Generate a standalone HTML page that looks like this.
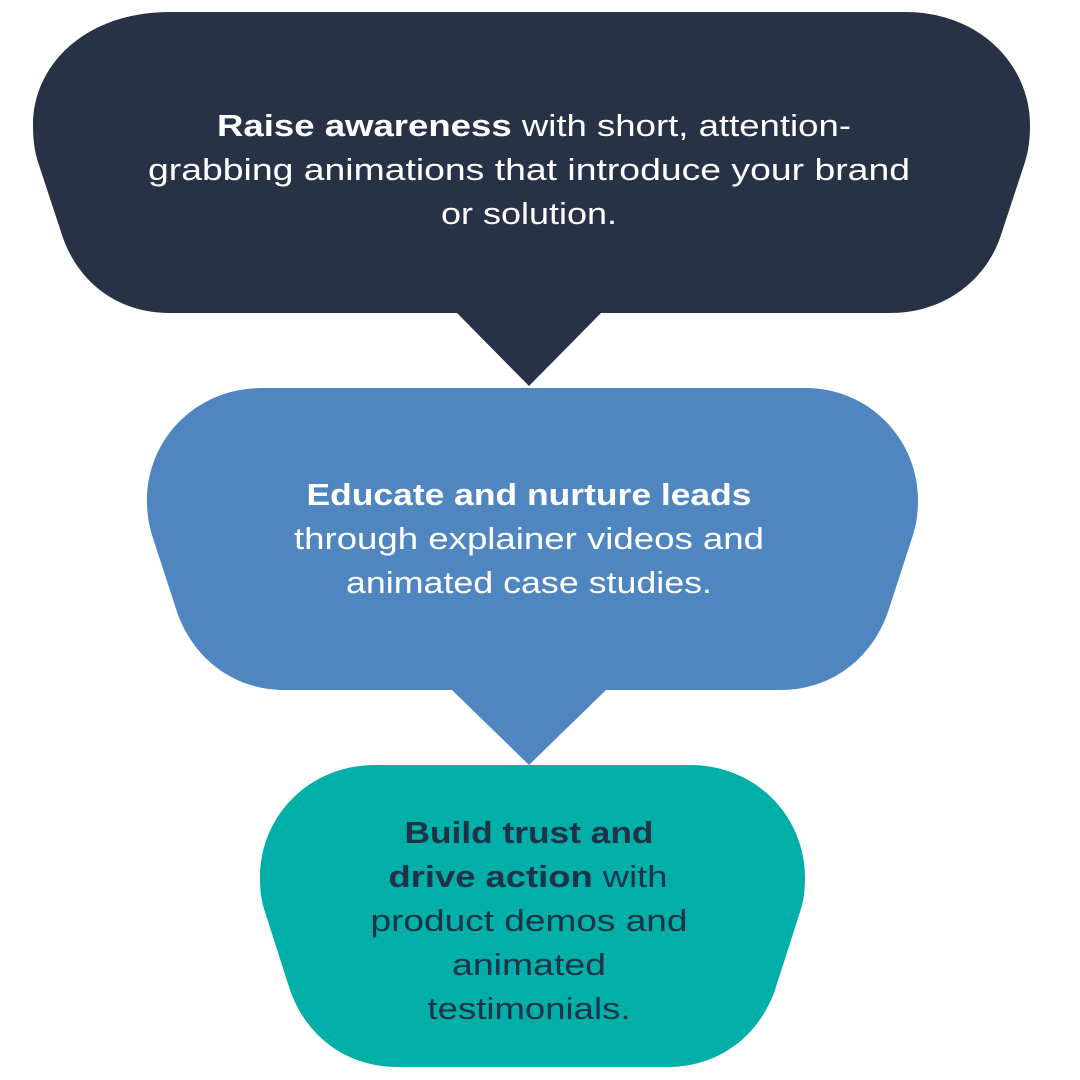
<!DOCTYPE html>
<html><head><meta charset="utf-8"><style>
html,body{margin:0;padding:0;background:#fff;}
svg{display:block;}
text{font-family:"Liberation Sans",sans-serif;font-size:31px;}
</style></head><body>
<svg width="1080" height="1080" viewBox="0 0 1080 1080">
<path fill="#283246" d="M170,12 H905 C980,12 1030,65 1030,125 C1030,142 1028,152 1025,162 L1000,238 C985,280 945,313 890,313 H601 L529,386 L457,313 H170 C115,313 78,280 63,238 L38,162 C35,152 33,142 33,125 C33,65 85,12 170,12 Z"/>
<path fill="#4f86c0" d="M262,388 H805 C870,388 918,440 918,500 C918,515 916,525 913,535 L888,612 C873,655 835,690 780,690 H606 L529,765 L452,690 H285 C230,690 192,655 177,612 L152,535 C149,525 147,515 147,500 C147,440 195,388 262,388 Z"/>
<path fill="#00b0a8" d="M375,765 H690 C755,765 805,815 805,878 C805,893 803,903 800,912 L775,990 C760,1033 722,1067 667,1067 H398 C343,1067 305,1033 290,990 L265,912 C262,903 260,893 260,878 C260,815 310,765 375,765 Z"/>
<g fill="#fff" text-anchor="middle">
<text x="534" y="136" textLength="634" lengthAdjust="spacingAndGlyphs"><tspan font-weight="bold">Raise awareness</tspan> with short, attention-</text>
<text x="529" y="180" textLength="762" lengthAdjust="spacingAndGlyphs">grabbing animations that introduce your brand</text>
<text x="529" y="224" textLength="176" lengthAdjust="spacingAndGlyphs">or solution.</text>
<text x="529" y="505" textLength="445" lengthAdjust="spacingAndGlyphs" font-weight="bold">Educate and nurture leads</text>
<text x="529" y="549" textLength="470" lengthAdjust="spacingAndGlyphs">through explainer videos and</text>
<text x="529" y="593" textLength="366" lengthAdjust="spacingAndGlyphs">animated case studies.</text>
</g>
<g fill="#1f3247" text-anchor="middle">
<text x="529" y="843" textLength="249" lengthAdjust="spacingAndGlyphs" font-weight="bold">Build trust and</text>
<text x="528" y="887" textLength="279" lengthAdjust="spacingAndGlyphs"><tspan font-weight="bold">drive action</tspan> with</text>
<text x="529" y="931" textLength="317" lengthAdjust="spacingAndGlyphs">product demos and</text>
<text x="529" y="975" textLength="154" lengthAdjust="spacingAndGlyphs">animated</text>
<text x="529" y="1019" textLength="203" lengthAdjust="spacingAndGlyphs">testimonials.</text>
</g>
</svg>
</body></html>
